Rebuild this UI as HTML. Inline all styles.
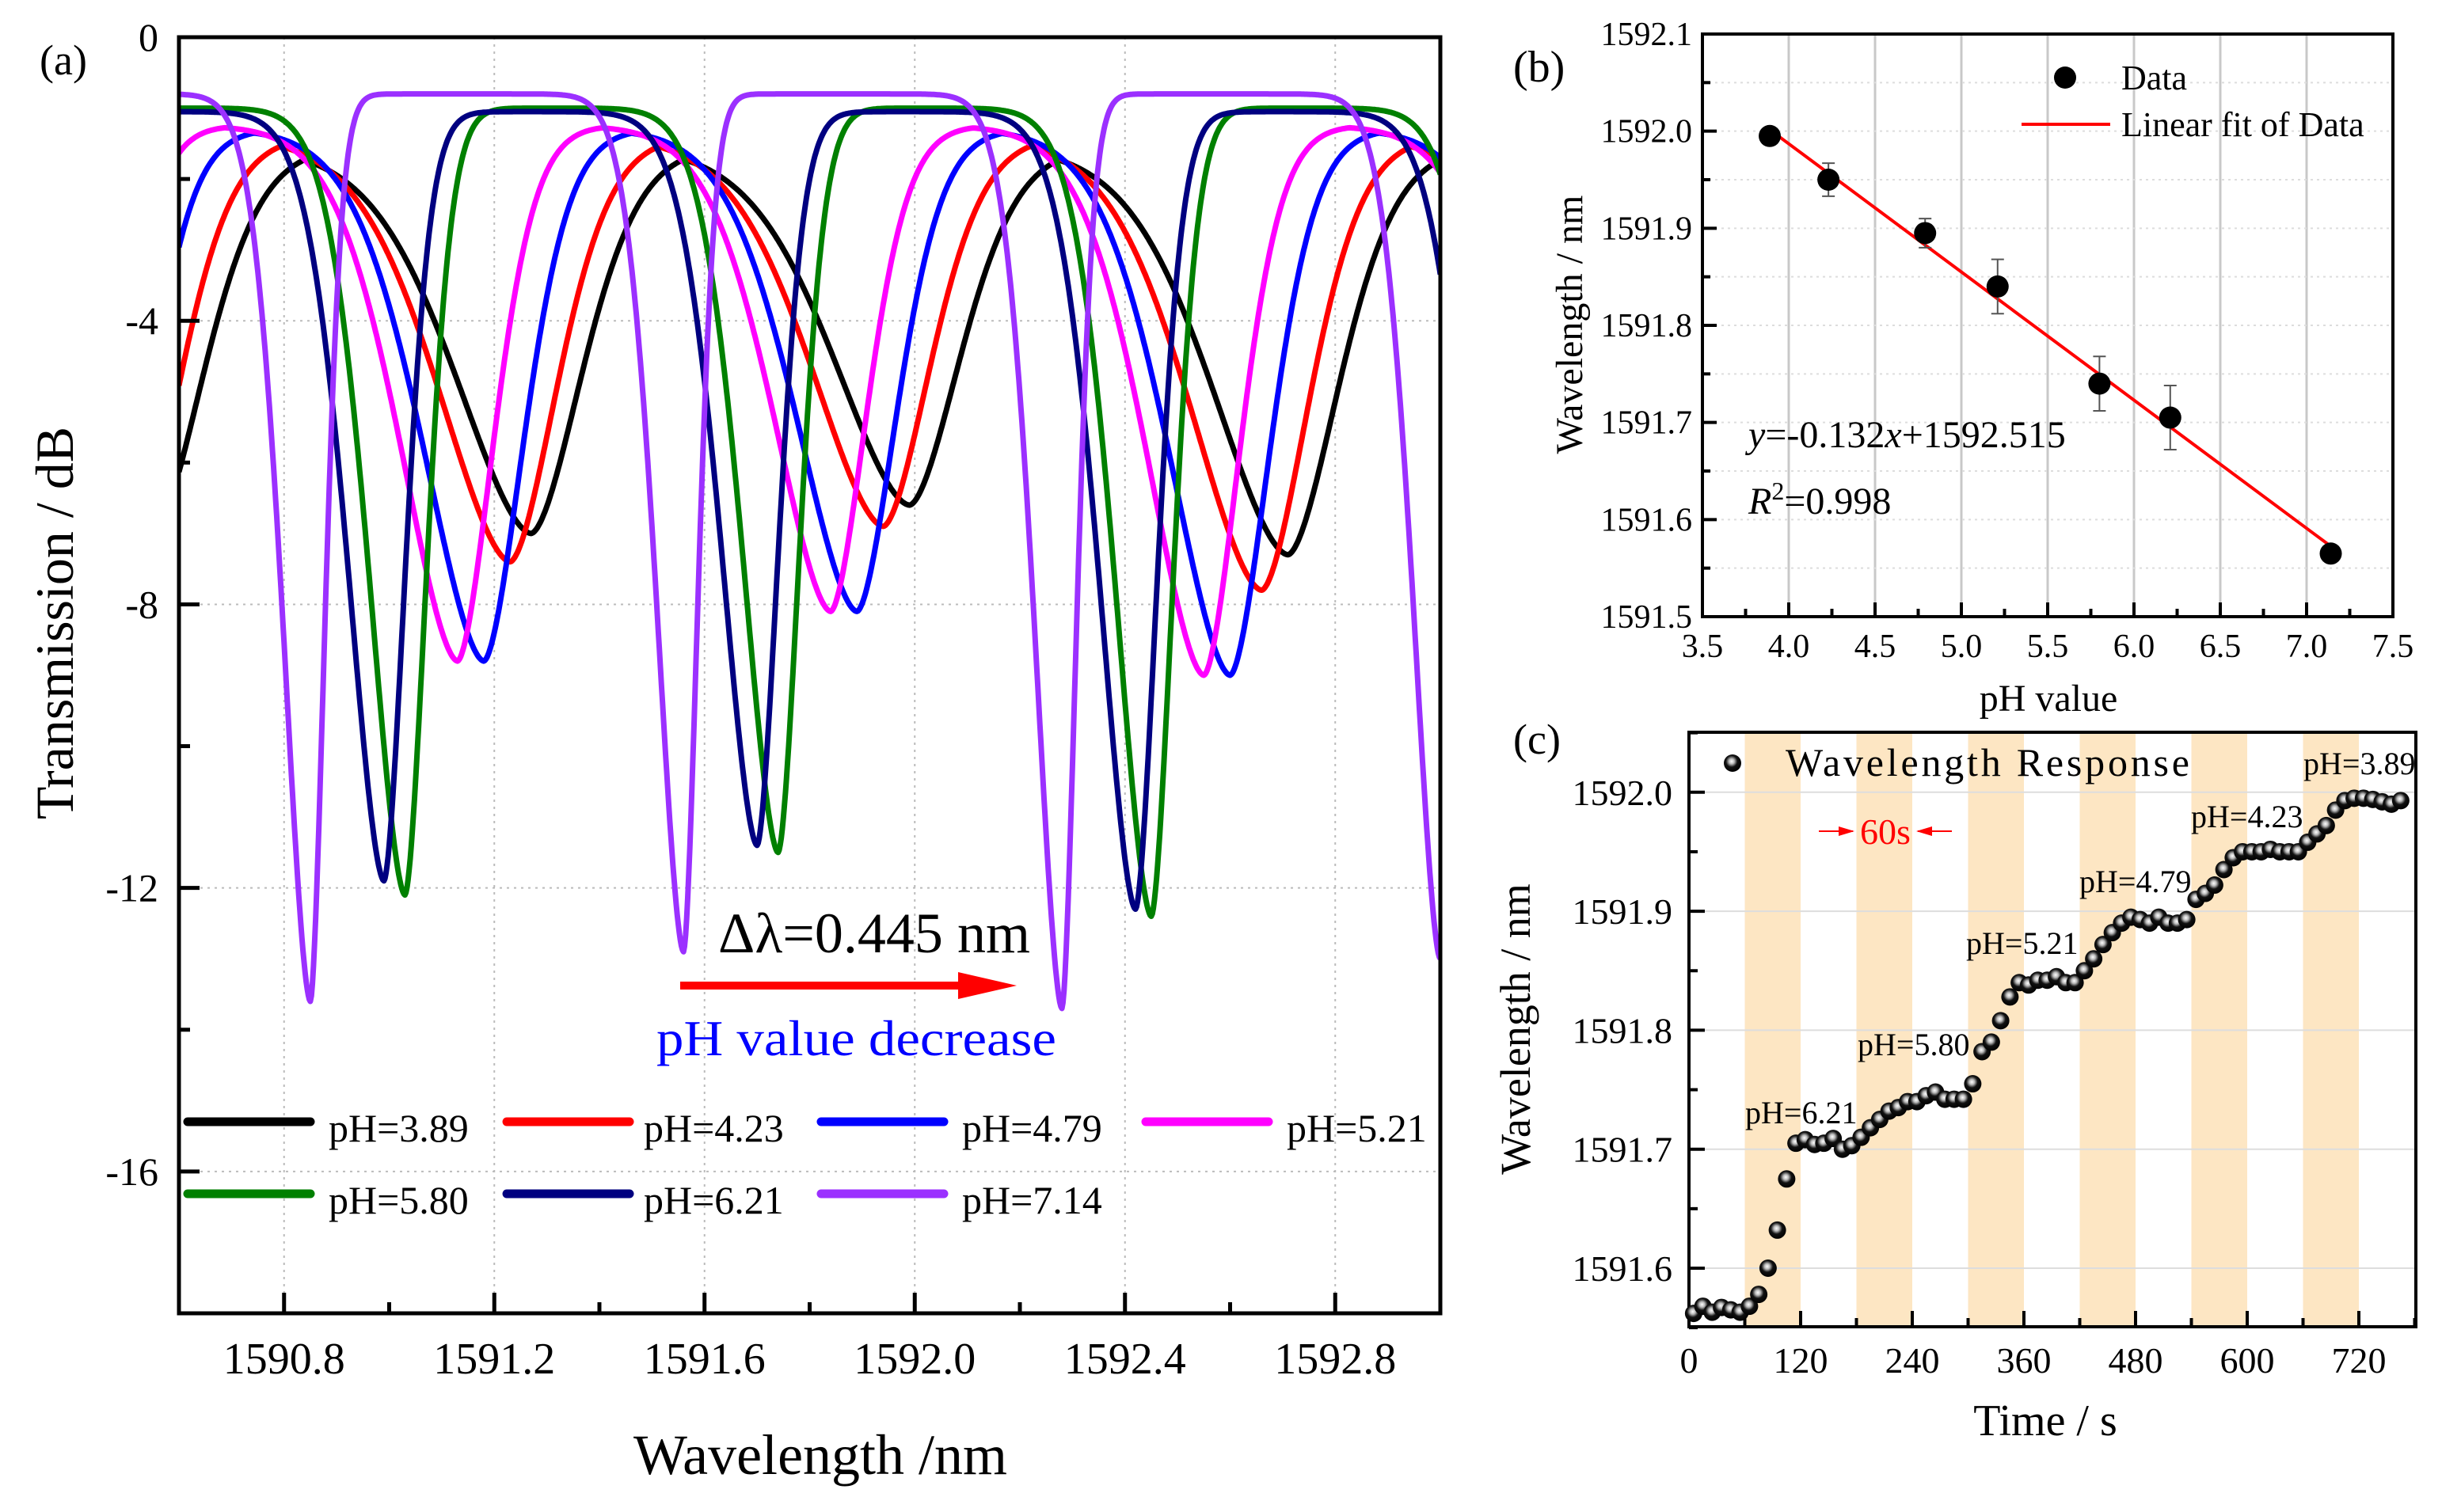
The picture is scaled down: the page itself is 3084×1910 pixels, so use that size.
<!DOCTYPE html>
<html><head><meta charset="utf-8"><style>
html,body{margin:0;padding:0;background:#fff;}
svg{display:block;font-family:"Liberation Serif",serif;}
</style></head><body>
<svg id="fig" width="3084" height="1910" viewBox="0 0 3084 1910" xmlns="http://www.w3.org/2000/svg">
<defs>
<radialGradient id="ball" cx="0.45" cy="0.4" r="0.6">
<stop offset="0" stop-color="#fff"/><stop offset="0.25" stop-color="#bbb"/><stop offset="0.55" stop-color="#111"/><stop offset="1" stop-color="#000"/>
</radialGradient>
<clipPath id="clipA"><rect x="226" y="47" width="1593" height="1612"/></clipPath>
</defs>
<g id="pa"></g>
<g id="pb"></g>
<g id="pc"></g>
</svg>
<script>
// ---------- Panel A data ----------
const aLabels = ["pH=3.89","pH=4.23","pH=4.79","pH=5.21","pH=5.80","pH=6.21","pH=7.14"];
const aColors = ["#000000","#ff0000","#0000ff","#ff00ff","#008000","#000080","#9b30ff"];
const aCenters0 = [1590.55,1591.27,1591.99,1592.71,1593.43];
const aCenters1 = [1590.51,1591.23,1591.94,1592.66,1593.38];
const aCenters2 = [1590.46,1591.18,1591.89,1592.60,1593.32];
const aCenters3 = [1590.41,1591.13,1591.84,1592.55,1593.27];
const aCenters4 = [1590.31,1591.03,1591.74,1592.45,1593.17];
const aCenters5 = [1590.28,1590.99,1591.70,1592.42,1593.13];
const aCenters6 = [1590.14,1590.85,1591.56,1592.28,1593.00];
const aDepths0 = [-7.0,-7.0,-6.6,-7.3,-7.0];
const aDepths1 = [-7.4,-7.4,-6.9,-7.8,-7.5];
const aDepths2 = [-8.8,-8.8,-8.1,-9.0,-8.8];
const aDepths3 = [-8.8,-8.8,-8.1,-9.0,-8.8];
const aDepths4 = [-12.0,-12.1,-11.5,-12.4,-12.0];
const aDepths5 = [-12.0,-11.9,-11.4,-12.3,-12.0];
const aDepths6 = [-13.0,-13.6,-12.9,-13.7,-13.0];
const aBase = [-1.55,-1.4,-1.3,-1.25,-1.0,-1.05,-0.8];
const aWidthL = [0.21,0.20,0.17,0.16,0.10,0.10,0.075];
const aWidthR = [0.14,0.13,0.11,0.10,0.06,0.06,0.04];
const aXTicks = [1590.8,1591.2,1591.6,1592.0,1592.4,1592.8];
const aYTicks = [0,-4,-8,-12,-16];
// ---------- Panel B data ----------
const bPH = [3.89,4.23,4.79,5.21,5.80,6.21,7.14];
const bWL = [1591.995,1591.950,1591.895,1591.840,1591.740,1591.705,1591.565];
const bErr = [0.004,0.017,0.015,0.028,0.028,0.033,0.005];
const bFit = [-0.132,1592.515];
const bXTicks = [3.5,4.0,4.5,5.0,5.5,6.0,6.5,7.0,7.5];
const bYTicks = [1591.5,1591.6,1591.7,1591.8,1591.9,1592.0,1592.1];
// ---------- Panel C data ----------
const cVals = [1591.562,1591.568,1591.563,1591.567,1591.565,1591.563,1591.568,1591.578,1591.600,1591.632,
1591.675,1591.705,1591.708,1591.704,1591.705,1591.709,1591.700,1591.703,1591.710,1591.718,
1591.725,1591.732,1591.735,1591.740,1591.740,1591.745,1591.748,1591.742,1591.742,1591.742,
1591.755,1591.782,1591.790,1591.808,1591.828,1591.840,1591.838,1591.842,1591.842,1591.845,
1591.840,1591.840,1591.850,1591.860,1591.872,1591.882,1591.890,1591.895,1591.893,1591.890,
1591.895,1591.890,1591.890,1591.893,1591.910,1591.915,1591.922,1591.935,1591.945,1591.950,
1591.950,1591.950,1591.952,1591.950,1591.950,1591.950,1591.958,1591.965,1591.972,1591.985,
1591.993,1591.995,1591.995,1591.994,1591.992,1591.990,1591.993];
const cTimes = cVals.map((v,i)=>5+10*i);
const cBands = [[60,120],[180,240],[300,360],[420,480],[540,600],[660,720]];
const cXTicks = [0,120,240,360,480,600,720];
const cYTicks = [1591.6,1591.7,1591.8,1591.9,1592.0];
const cLabels = ["pH=6.21","pH=5.80","pH=5.21","pH=4.79","pH=4.23","pH=3.89"];

const NS="http://www.w3.org/2000/svg";
function mk(parent,tag,attrs,text){const e=document.createElementNS(NS,tag);for(const k in attrs)e.setAttribute(k,attrs[k]);if(text!==undefined)e.textContent=text;parent.appendChild(e);return e;}

// ===== Panel A =====
(function(){
const g=document.getElementById('pa');
const L=226,R=1819,T=47,B=1659;
const xA=w=>L+(w-1590.6)*(R-L)/2.4;
const yA=v=>T+(-v)*(B-T)/18;
aXTicks.forEach(t=>{const l=mk(g,'line',{x1:xA(t),x2:xA(t),y1:T,y2:B,stroke:'#bbb','stroke-width':2,'stroke-dasharray':'3 6'});
});
aYTicks.forEach(t=>{const l=mk(g,'line',{x1:L,x2:R,y1:yA(t),y2:yA(t),stroke:'#bbb','stroke-width':2,'stroke-dasharray':'3 6'});
});
const centers=[aCenters0,aCenters1,aCenters2,aCenters3,aCenters4,aCenters5,aCenters6];
const depths=[aDepths0,aDepths1,aDepths2,aDepths3,aDepths4,aDepths5,aDepths6];
const cg=mk(g,'g',{'clip-path':'url(#clipA)'});
for(let s=0;s<7;s++){
  let d='';
  for(let i=0;i<=1200;i++){const x=1590.6+i*0.002;let y=aBase[s];
    centers[s].forEach((c,k)=>{const w=x<c?aWidthL[s]:aWidthR[s];const u=Math.abs((x-c)/w);
      const v=aBase[s]+(depths[s][k]-aBase[s])*Math.exp(-Math.pow(u,1.7));if(v<y)y=v;});
    d+=(i?'L':'M')+xA(x).toFixed(1)+' '+yA(y).toFixed(1);}
  const path=mk(cg,'path',{d:d,fill:'none',stroke:aColors[s],'stroke-width':7,'stroke-linejoin':'round'});
  
  
}
mk(g,'rect',{x:L,y:T,width:R-L,height:B-T,fill:'none',stroke:'#000','stroke-width':5});
for(let t=1590.6;t<=1593.001;t+=0.2){const maj=aXTicks.some(v=>Math.abs(v-t)<1e-6);
  mk(g,'line',{x1:xA(t),x2:xA(t),y1:B,y2:B-(maj?26:14),stroke:'#000','stroke-width':5});}
for(let t=0;t>=-18;t-=2){const maj=aYTicks.includes(t);
  mk(g,'line',{x1:L,x2:L+(maj?26:14),y1:yA(t),y2:yA(t),stroke:'#000','stroke-width':5});}
aXTicks.forEach(t=>{const e=mk(g,'text',{x:xA(t),y:1735,'font-size':56,'text-anchor':'middle'},t.toFixed(1));
});
aYTicks.forEach(t=>{const e=mk(g,'text',{x:200,y:yA(t)+17,'font-size':50,'text-anchor':'end'},String(t));
});
let e=mk(g,'text',{x:1036,y:1862,'font-size':72,'text-anchor':'middle'},'Wavelength /nm');

e=mk(g,'text',{x:0,y:0,'font-size':68,'text-anchor':'middle',transform:'translate(92,787) rotate(-90)'},'Transmission / dB');

e=mk(g,'text',{x:50,y:94,'font-size':54},'(a)');

e=mk(g,'text',{x:907,y:1203,'font-size':72,textLength:394,lengthAdjust:'spacingAndGlyphs'},'Δλ=0.445 nm');

e=mk(g,'path',{d:'M859 1240 L1210 1240 L1210 1228 L1284 1245 L1210 1262 L1210 1250 L859 1250 Z',fill:'#ff0000'});

e=mk(g,'text',{x:829,y:1333,'font-size':64,fill:'#0000ff',textLength:505,lengthAdjust:'spacingAndGlyphs'},'pH value decrease');

const colLine=[237,640,1037,1447],colText=[415,813,1215,1625],rowY=[1417,1508];
for(let s=0;s<7;s++){const c=s%4,r=Math.floor(s/4);
  const lg=mk(g,'g',{});
  
  
  mk(lg,'line',{x1:colLine[c],x2:colLine[c]+155,y1:rowY[r],y2:rowY[r],stroke:aColors[s],'stroke-width':11,'stroke-linecap':'round'});
  mk(lg,'text',{x:colText[c],y:rowY[r]+25,'font-size':50},aLabels[s]);}
})();

// ===== Panel B =====
(function(){
const g=document.getElementById('pb');
const L=2150,R=3022,T=43,B=779;
const xB=v=>L+(v-3.5)*(R-L)/4;
const yB=v=>B-(v-1591.5)*(B-T)/0.6;
bXTicks.slice(1,-1).forEach(t=>{const l=mk(g,'line',{x1:xB(t),x2:xB(t),y1:T,y2:B,stroke:'#c8c8c8','stroke-width':3});
});
for(let v=1591.55;v<1592.09;v+=0.05){const l=mk(g,'line',{x1:L,x2:R,y1:yB(v),y2:yB(v),stroke:'#ddd','stroke-width':2,'stroke-dasharray':'3 5'});
}
mk(g,'rect',{x:L,y:T,width:R-L,height:B-T,fill:'none',stroke:'#000','stroke-width':4});
for(let t=3.5;t<=7.501;t+=0.25){const maj=Math.abs(t*2-Math.round(t*2))<1e-6;
  mk(g,'line',{x1:xB(t),x2:xB(t),y1:B,y2:B-(maj?18:10),stroke:'#000','stroke-width':4});}
for(let v=1591.5;v<=1592.101;v+=0.05){const maj=Math.abs(v*10-Math.round(v*10))<1e-6;
  mk(g,'line',{x1:L,x2:L+(maj?18:10),y1:yB(v),y2:yB(v),stroke:'#000','stroke-width':4});}
bXTicks.forEach(t=>{const e=mk(g,'text',{x:xB(t),y:830,'font-size':42,'text-anchor':'middle'},t.toFixed(1));
});
bYTicks.forEach(t=>{const e=mk(g,'text',{x:2137,y:yB(t)+14,'font-size':42,'text-anchor':'end'},t.toFixed(1));
});
const x0=bPH[0],x1=bPH[bPH.length-1];
let e=mk(g,'line',{x1:xB(x0),y1:yB(bFit[0]*x0+bFit[1]),x2:xB(x1),y2:yB(bFit[0]*x1+bFit[1]),stroke:'#ff0000','stroke-width':4});

bPH.forEach((p,i)=>{const pg=mk(g,'g',{});
  
  const x=xB(p),y1=yB(bWL[i]+bErr[i]),y2=yB(bWL[i]-bErr[i]);
  mk(pg,'path',{d:`M${x} ${y1}V${y2}M${x-8} ${y1}H${x+8}M${x-8} ${y2}H${x+8}`,stroke:'#555','stroke-width':2,fill:'none'});
  mk(pg,'ellipse',{cx:x,cy:yB(bWL[i]),rx:14,ry:14,fill:'#000'});});
const lg=mk(g,'g',{});
mk(lg,'circle',{cx:2608,cy:98,r:14,fill:'#000'});
mk(lg,'text',{x:2679,y:113,'font-size':44},'Data');
mk(lg,'line',{x1:2553,x2:2665,y1:157,y2:157,stroke:'#ff0000','stroke-width':4});
mk(lg,'text',{x:2679,y:172,'font-size':44},'Linear fit of Data');
e=mk(g,'text',{x:2208,y:565,'font-size':48},'');

e.innerHTML='<tspan font-style="italic">y</tspan>=-0.132<tspan font-style="italic">x</tspan>+1592.515';
e=mk(g,'text',{x:2208,y:649,'font-size':48},'');

e.innerHTML='<tspan font-style="italic">R</tspan><tspan dy="-18" font-size="32">2</tspan><tspan dy="18">=0.998</tspan>';
e=mk(g,'text',{x:2587,y:898,'font-size':48,'text-anchor':'middle'},'pH value');

e=mk(g,'text',{x:0,y:0,'font-size':48,'text-anchor':'middle',transform:'translate(1998,410) rotate(-90)'},'Wavelength / nm');

e=mk(g,'text',{x:1911,y:103,'font-size':56},'(b)');

})();

// ===== Panel C =====
(function(){
const g=document.getElementById('pc');
const L=2133,R=3051,T=925,B=1676;
const xC=t=>L+t*(141/120);
const yC=v=>1602-(v-1591.6)*1503;
cBands.forEach(b=>{const r=mk(g,'rect',{x:xC(b[0]),y:T,width:xC(b[1])-xC(b[0]),height:B-T,fill:'#fde6c3'});
});
cYTicks.forEach(v=>{const l=mk(g,'line',{x1:L,x2:R,y1:yC(v),y2:yC(v),stroke:'#ddd','stroke-width':2});
});
mk(g,'rect',{x:L,y:T,width:R-L,height:B-T,fill:'none',stroke:'#000','stroke-width':4});
for(let t=0;t<=780;t+=60){const maj=t%120===0;
  mk(g,'line',{x1:xC(t),x2:xC(t),y1:B,y2:B-(maj?20:11),stroke:'#000','stroke-width':4});}
for(let v=1591.55;v<=1592.051;v+=0.05){const maj=Math.abs(v*10-Math.round(v*10))<1e-6;
  mk(g,'line',{x1:L,x2:L+(maj?20:11),y1:yC(v),y2:yC(v),stroke:'#000','stroke-width':4});}
cXTicks.forEach(t=>{const e=mk(g,'text',{x:xC(t),y:1734,'font-size':46,'text-anchor':'middle'},String(t));
});
cYTicks.forEach(v=>{const e=mk(g,'text',{x:2112,y:yC(v)+16,'font-size':46,'text-anchor':'end'},v.toFixed(1));
});
cTimes.forEach((t,i)=>{const c=mk(g,'circle',{cx:xC(t),cy:yC(cVals[i]),r:11,fill:'url(#ball)'});
});
const lx=[2204,2346,2483,2626,2767,2909],ly=[1419,1333,1205,1127,1045,978];
cLabels.forEach((s,i)=>{const e=mk(g,'text',{x:lx[i],y:ly[i],'font-size':40},s);
});
const lg=mk(g,'g',{});
mk(lg,'circle',{cx:2188,cy:964,r:11,fill:'url(#ball)'});
mk(lg,'text',{x:2255,y:980,'font-size':50,textLength:510,lengthAdjust:'spacing'},'Wavelength  Response');
const ag=mk(g,'g',{});
mk(ag,'path',{d:'M2297 1050H2340M2422 1050H2465',stroke:'#ff0000','stroke-width':2});
mk(ag,'path',{d:'M2322 1044L2342 1050L2322 1056Z M2440 1044L2420 1050L2440 1056Z',fill:'#ff0000'});
mk(ag,'text',{x:2381,y:1066,'font-size':46,fill:'#ff0000','text-anchor':'middle'},'60s');
let e=mk(g,'text',{x:2583,y:1813,'font-size':56,'text-anchor':'middle'},'Time / s');

e=mk(g,'text',{x:0,y:0,'font-size':54,'text-anchor':'middle',transform:'translate(1932,1300) rotate(-90)'},'Wavelength / nm');

e=mk(g,'text',{x:1911,y:952,'font-size':54},'(c)');

})();
</script>
</body></html>
